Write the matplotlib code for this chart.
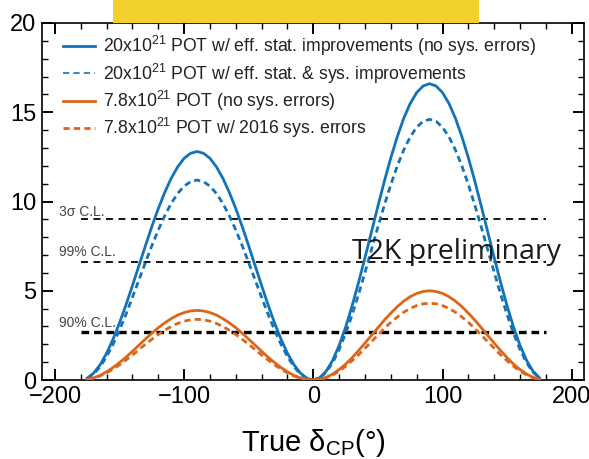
import numpy as np
import matplotlib
matplotlib.use("Agg")
import matplotlib.pyplot as plt
from matplotlib.patches import Rectangle

plt.rcParams['font.family'] = ['Liberation Sans', 'DejaVu Sans']
plt.rcParams['mathtext.fontset'] = 'custom'
plt.rcParams['mathtext.rm'] = 'Liberation Sans'
plt.rcParams['mathtext.it'] = 'Liberation Sans:italic'
plt.rcParams['mathtext.bf'] = 'Liberation Sans:bold'
plt.rcParams['lines.scale_dashes'] = False

# True delta_CP grid (degrees)
delta_cp = np.arange(-175, 180, 5)

# Delta chi^2 for rejecting CP conservation
chi2_20e21_stat = [
    0.10, 0.39, 0.86, 1.50, 2.29, 3.20, 4.21, 5.29, 6.40, 7.51, 8.59, 9.60, 10.51, 11.30, 11.94, 12.42, 12.70,
    12.80,
    12.70, 12.42, 11.94, 11.30, 10.51, 9.60, 8.59, 7.51, 6.40, 5.29, 4.21, 3.20, 2.29, 1.50, 0.86, 0.39, 0.10,
    0.00,
    0.13, 0.50, 1.11, 1.94, 2.96, 4.15, 5.46, 6.86, 8.30, 9.74, 11.14, 12.45, 13.63, 14.66, 15.49, 16.10, 16.47,
    16.60,
    16.47, 16.10, 15.49, 14.66, 13.63, 12.45, 11.14, 9.74, 8.30, 6.86, 5.46, 4.15, 2.96, 1.94, 1.11, 0.50, 0.13,
]
chi2_20e21_sys = [
    0.09, 0.34, 0.75, 1.31, 2.00, 2.80, 3.68, 4.63, 5.60, 6.57, 7.52, 8.40, 9.20, 9.89, 10.45, 10.86, 11.11,
    11.20,
    11.11, 10.86, 10.45, 9.89, 9.20, 8.40, 7.52, 6.57, 5.60, 4.63, 3.68, 2.80, 2.00, 1.31, 0.75, 0.34, 0.09,
    0.00,
    0.11, 0.44, 0.98, 1.71, 2.61, 3.65, 4.80, 6.03, 7.30, 8.57, 9.80, 10.95, 11.99, 12.89, 13.62, 14.16, 14.49,
    14.60,
    14.49, 14.16, 13.62, 12.89, 11.99, 10.95, 9.80, 8.57, 7.30, 6.03, 4.80, 3.65, 2.61, 1.71, 0.98, 0.44, 0.11,
]
chi2_78e20_stat = [
    0.03, 0.12, 0.26, 0.46, 0.70, 0.98, 1.28, 1.61, 1.95, 2.29, 2.62, 2.93, 3.20, 3.44, 3.64, 3.78, 3.87,
    3.90,
    3.87, 3.78, 3.64, 3.44, 3.20, 2.93, 2.62, 2.29, 1.95, 1.61, 1.28, 0.98, 0.70, 0.46, 0.26, 0.12, 0.03,
    0.00,
    0.04, 0.15, 0.34, 0.59, 0.89, 1.25, 1.65, 2.07, 2.50, 2.93, 3.36, 3.75, 4.11, 4.42, 4.67, 4.85, 4.96,
    5.00,
    4.96, 4.85, 4.67, 4.42, 4.11, 3.75, 3.36, 2.93, 2.50, 2.07, 1.65, 1.25, 0.89, 0.59, 0.34, 0.15, 0.04,
]
chi2_78e20_sys2016 = [
    0.03, 0.10, 0.23, 0.40, 0.61, 0.85, 1.12, 1.40, 1.70, 2.00, 2.28, 2.55, 2.79, 3.00, 3.17, 3.30, 3.37,
    3.40,
    3.37, 3.30, 3.17, 3.00, 2.79, 2.55, 2.28, 2.00, 1.70, 1.40, 1.12, 0.85, 0.61, 0.40, 0.23, 0.10, 0.03,
    0.00,
    0.03, 0.13, 0.29, 0.50, 0.77, 1.08, 1.41, 1.78, 2.15, 2.52, 2.89, 3.23, 3.53, 3.80, 4.01, 4.17, 4.27,
    4.30,
    4.27, 4.17, 4.01, 3.80, 3.53, 3.23, 2.89, 2.52, 2.15, 1.78, 1.41, 1.08, 0.77, 0.50, 0.29, 0.13, 0.03,
]

series_labels = [
    "20x10$^{21}$ POT w/ eff. stat. improvements (no sys. errors)",
    "20x10$^{21}$ POT w/ eff. stat. & sys. improvements",
    "7.8x10$^{21}$ POT (no sys. errors)",
    "7.8x10$^{21}$ POT w/ 2016 sys. errors",
]

# Confidence-level thresholds and where their captions sit
cl_values = [9.0, 6.63, 2.71]
cl_labels = ["3σ C.L.", "99% C.L.", "90% C.L."]
cl_label_y = [9.43, 7.17, 3.21]

blue = "#1373b8"
orange = "#dd6518"

fig = plt.figure(figsize=(5.89, 4.59), dpi=100)

# yellow banner behind the top of the frame
fig.patches.append(Rectangle((113 / 589, (459 - 23) / 459), (479 - 113) / 589, 23 / 459,
                             transform=fig.transFigure, facecolor="#f2d12f",
                             edgecolor="none", zorder=0))

ax = fig.add_axes([0.0713, 0.172, 0.9202, 0.778])
ax.patch.set_alpha(0)

# C.L. reference lines
cl_styles = [(1.3, (0, (5.0, 4.0))), (1.3, (0, (5.0, 4.0))), (2.4, (0, (5.5, 3.5)))]
for val, lab, ly, (lw, ls) in zip(cl_values, cl_labels, cl_label_y, cl_styles):
    ax.plot([-180, 180], [val, val], color="black", lw=lw, linestyle=ls, zorder=2)
    ax.text(-197, ly, lab, fontsize=10, color="#444444", ha="left", va="center", zorder=3)

ax.plot(delta_cp, chi2_20e21_stat, color=blue, lw=2.0, label=series_labels[0], zorder=4)
ax.plot(delta_cp, chi2_20e21_sys, color=blue, lw=2.0, linestyle=(0, (4.5, 3.0)),
        label=series_labels[1], zorder=4)
ax.plot(delta_cp, chi2_78e20_stat, color=orange, lw=2.0, label=series_labels[2], zorder=4)
ax.plot(delta_cp, chi2_78e20_sys2016, color=orange, lw=2.0, linestyle=(0, (4.5, 3.0)),
        label=series_labels[3], zorder=4)

ax.text(30, 6.78, "T2K preliminary", fontsize=20.5, family=["Open Sans", "DejaVu Sans"],
        color="#1a1a1a", ha="left", va="baseline", zorder=5)

leg = ax.legend(loc="upper left", bbox_to_anchor=(0.0387, 0.968), frameon=False,
                fontsize=12.7, handlelength=1.8, handletextpad=0.45, labelspacing=0.17,
                borderpad=0, borderaxespad=0)
for t in leg.get_texts():
    t.set_color("#222222")
leg.get_lines()[1].set_linewidth(1.2)

ax.set_xlim(-210, 209.5)
ax.set_ylim(0, 20)
ax.set_xticks([-200, -100, 0, 100, 200])
ax.set_xticks(np.arange(-200, 201, 20), minor=True)
ax.set_yticks([0, 5, 10, 15, 20])
ax.set_yticks(np.arange(0, 21, 1), minor=True)
ax.tick_params(which="both", direction="in", top=True, right=True, labelsize=17, colors="black")
ax.tick_params(which="major", length=8, width=1.4, pad=4)
ax.tick_params(which="minor", length=4, width=1.0)
for s in ax.spines.values():
    s.set_linewidth(1.2)

ax.set_xlabel("True δ$_{\\mathregular{CP}}$(°)", fontsize=21, labelpad=14)

fig.savefig("out.png", dpi=100)
